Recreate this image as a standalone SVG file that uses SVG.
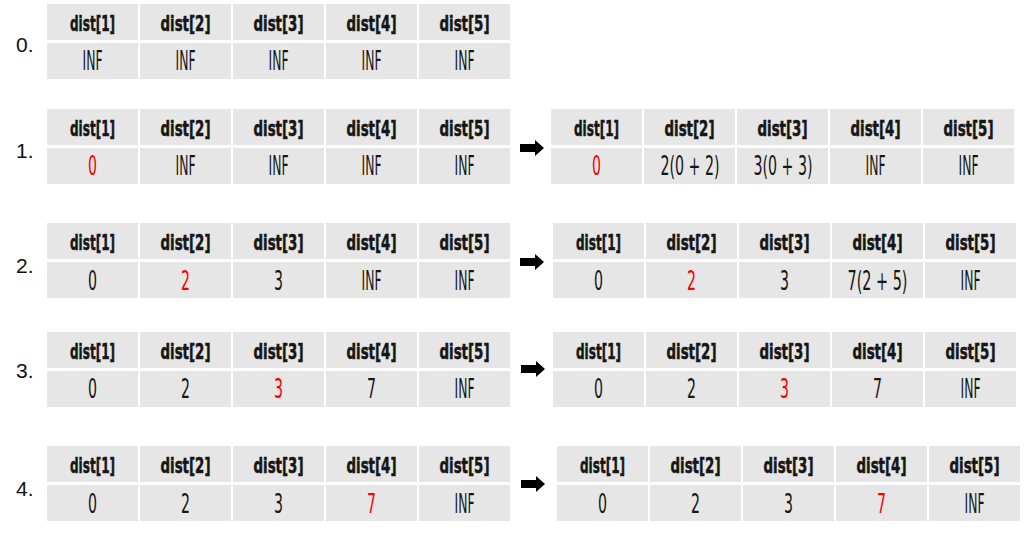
<svg xmlns="http://www.w3.org/2000/svg" width="1026" height="533" viewBox="0 0 1026 533">
<style>
.c{fill:#e6e6e6}
.h{font-family:"DejaVu Sans",sans-serif;font-weight:bold;font-size:21px;fill:#161616;stroke:#161616;stroke-width:0.6;text-anchor:middle;dominant-baseline:central}
.v{font-family:"DejaVu Sans",sans-serif;font-size:26px;fill:#161616;text-anchor:middle;dominant-baseline:central}
.w{font-size:18px}
.r{fill:#ff0000}
.l{font-family:"Liberation Sans",Arial,sans-serif;font-size:21px;fill:#111;dominant-baseline:central}
.a{fill:#000}
</style>
<defs>
<g id="hdr">
<rect class="c" x="0" y="0" width="91" height="36"/><rect class="c" x="93" y="0" width="91" height="36"/><rect class="c" x="186" y="0" width="91" height="36"/><rect class="c" x="279" y="0" width="91" height="36"/><rect class="c" x="372" y="0" width="91" height="36"/>
<rect class="c" x="0" y="39" width="91" height="36"/><rect class="c" x="93" y="39" width="91" height="36"/><rect class="c" x="186" y="39" width="91" height="36"/><rect class="c" x="279" y="39" width="91" height="36"/><rect class="c" x="372" y="39" width="91" height="36"/>
<text class="h" x="45.5" y="20" textLength="45" lengthAdjust="spacingAndGlyphs">dist[1]</text>
<text class="h" x="138.5" y="20" textLength="50" lengthAdjust="spacingAndGlyphs">dist[2]</text>
<text class="h" x="231.5" y="20" textLength="50" lengthAdjust="spacingAndGlyphs">dist[3]</text>
<text class="h" x="324.5" y="20" textLength="50" lengthAdjust="spacingAndGlyphs">dist[4]</text>
<text class="h" x="417.5" y="20" textLength="50" lengthAdjust="spacingAndGlyphs">dist[5]</text>
</g>
</defs>

<g id="step0">
<text class="l" x="16" y="44">0.</text>
<g id="t0" transform="translate(47,4)"><use href="#hdr"/>
<text class="v" x="45.5" y="57" textLength="20" lengthAdjust="spacingAndGlyphs">INF</text><text class="v" x="138.5" y="57" textLength="20" lengthAdjust="spacingAndGlyphs">INF</text><text class="v" x="231.5" y="57" textLength="20" lengthAdjust="spacingAndGlyphs">INF</text><text class="v" x="324.5" y="57" textLength="20" lengthAdjust="spacingAndGlyphs">INF</text><text class="v" x="417.5" y="57" textLength="20" lengthAdjust="spacingAndGlyphs">INF</text></g>
</g>

<g id="step1">
<text class="l" x="16" y="150">1.</text>
<g id="t1a" transform="translate(47,109)"><use href="#hdr"/>
<text class="v r" x="45.5" y="57" textLength="9" lengthAdjust="spacingAndGlyphs">0</text><text class="v" x="138.5" y="57" textLength="20" lengthAdjust="spacingAndGlyphs">INF</text><text class="v" x="231.5" y="57" textLength="20" lengthAdjust="spacingAndGlyphs">INF</text><text class="v" x="324.5" y="57" textLength="20" lengthAdjust="spacingAndGlyphs">INF</text><text class="v" x="417.5" y="57" textLength="20" lengthAdjust="spacingAndGlyphs">INF</text></g>
<g id="t1b" transform="translate(551,109)"><use href="#hdr"/>
<text class="v r" x="45.5" y="57" textLength="9" lengthAdjust="spacingAndGlyphs">0</text>
<text class="v w" transform="translate(139,57) scale(1,1.44)" x="0" y="0" textLength="59" lengthAdjust="spacingAndGlyphs">2(0 + 2)</text>
<text class="v w" transform="translate(232,57) scale(1,1.44)" x="0" y="0" textLength="59" lengthAdjust="spacingAndGlyphs">3(0 + 3)</text>
<text class="v" x="324.5" y="57" textLength="20" lengthAdjust="spacingAndGlyphs">INF</text><text class="v" x="417.5" y="57" textLength="20" lengthAdjust="spacingAndGlyphs">INF</text></g>
</g>

<g id="step2">
<text class="l" x="16" y="265">2.</text>
<g id="t2a" transform="translate(47,223)"><use href="#hdr"/>
<text class="v" x="45.5" y="58" textLength="9" lengthAdjust="spacingAndGlyphs">0</text><text class="v r" x="138.5" y="58" textLength="9" lengthAdjust="spacingAndGlyphs">2</text><text class="v" x="231.5" y="58" textLength="9" lengthAdjust="spacingAndGlyphs">3</text><text class="v" x="324.5" y="58" textLength="20" lengthAdjust="spacingAndGlyphs">INF</text><text class="v" x="417.5" y="58" textLength="20" lengthAdjust="spacingAndGlyphs">INF</text></g>
<g id="t2b" transform="translate(553,223)"><use href="#hdr"/>
<text class="v" x="45.5" y="58" textLength="9" lengthAdjust="spacingAndGlyphs">0</text><text class="v r" x="138.5" y="58" textLength="9" lengthAdjust="spacingAndGlyphs">2</text><text class="v" x="231.5" y="58" textLength="9" lengthAdjust="spacingAndGlyphs">3</text>
<text class="v w" transform="translate(324.5,58) scale(1,1.44)" x="0" y="0" textLength="60" lengthAdjust="spacingAndGlyphs">7(2 + 5)</text>
<text class="v" x="417.5" y="58" textLength="20" lengthAdjust="spacingAndGlyphs">INF</text></g>
</g>

<g id="step3">
<text class="l" x="16" y="370">3.</text>
<g id="t3a" transform="translate(47,332)"><use href="#hdr"/>
<text class="v" x="45.5" y="57" textLength="9" lengthAdjust="spacingAndGlyphs">0</text><text class="v" x="138.5" y="57" textLength="9" lengthAdjust="spacingAndGlyphs">2</text><text class="v r" x="231.5" y="57" textLength="9" lengthAdjust="spacingAndGlyphs">3</text><text class="v" x="324.5" y="57" textLength="9" lengthAdjust="spacingAndGlyphs">7</text><text class="v" x="417.5" y="57" textLength="20" lengthAdjust="spacingAndGlyphs">INF</text></g>
<g id="t3b" transform="translate(553,332)"><use href="#hdr"/>
<text class="v" x="45.5" y="57" textLength="9" lengthAdjust="spacingAndGlyphs">0</text><text class="v" x="138.5" y="57" textLength="9" lengthAdjust="spacingAndGlyphs">2</text><text class="v r" x="231.5" y="57" textLength="9" lengthAdjust="spacingAndGlyphs">3</text><text class="v" x="324.5" y="57" textLength="9" lengthAdjust="spacingAndGlyphs">7</text><text class="v" x="417.5" y="57" textLength="20" lengthAdjust="spacingAndGlyphs">INF</text></g>
</g>

<g id="step4">
<text class="l" x="16" y="488">4.</text>
<g id="t4a" transform="translate(47,446)"><use href="#hdr"/>
<text class="v" x="45.5" y="58" textLength="9" lengthAdjust="spacingAndGlyphs">0</text><text class="v" x="138.5" y="58" textLength="9" lengthAdjust="spacingAndGlyphs">2</text><text class="v" x="231.5" y="58" textLength="9" lengthAdjust="spacingAndGlyphs">3</text><text class="v r" x="324.5" y="58" textLength="9" lengthAdjust="spacingAndGlyphs">7</text><text class="v" x="417.5" y="58" textLength="20" lengthAdjust="spacingAndGlyphs">INF</text></g>
<g id="t4b" transform="translate(557,446)"><use href="#hdr"/>
<text class="v" x="45.5" y="58" textLength="9" lengthAdjust="spacingAndGlyphs">0</text><text class="v" x="138.5" y="58" textLength="9" lengthAdjust="spacingAndGlyphs">2</text><text class="v" x="231.5" y="58" textLength="9" lengthAdjust="spacingAndGlyphs">3</text><text class="v r" x="324.5" y="58" textLength="9" lengthAdjust="spacingAndGlyphs">7</text><text class="v" x="417.5" y="58" textLength="20" lengthAdjust="spacingAndGlyphs">INF</text></g>
</g>

<g id="connectors">
<path class="a" d="M520,144 H535 V140 L544,148 L535,156 V152 H520 Z"/>
<path class="a" d="M520,258 H535 V254 L544,262 L535,270 V266 H520 Z"/>
<path class="a" d="M521,365 H536 V361 L545,369 L536,377 V373 H521 Z"/>
<path class="a" d="M521,480 H536 V476 L545,484 L536,492 V488 H521 Z"/>
</g>
</svg>
